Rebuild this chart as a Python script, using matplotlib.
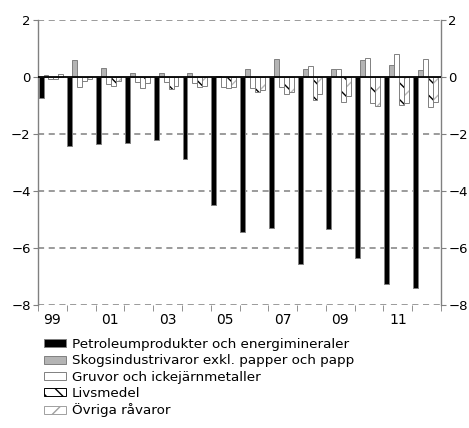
import numpy as np
import matplotlib
matplotlib.use("Agg")
from matplotlib import pyplot as plt
from matplotlib.patches import Patch

years = ["99", "00", "01", "02", "03", "04", "05", "06", "07", "08", "09", "10", "11", "12"]
petroleum = [-0.72, -2.43, -2.35, -2.30, -2.20, -2.88, -4.50, -5.45, -5.30, -6.56, -5.33, -6.36, -7.26, -7.40]
skog = [0.06, 0.61, 0.33, 0.13, 0.13, 0.14, 0.02, 0.27, 0.62, 0.28, 0.28, 0.59, 0.43, 0.26]
gruvor = [-0.08, -0.36, -0.25, -0.17, -0.17, -0.22, -0.36, -0.40, -0.34, 0.40, 0.28, 0.67, 0.81, 0.63]
livsmedel = [-0.08, -0.13, -0.30, -0.40, -0.43, -0.34, -0.40, -0.52, -0.60, -0.80, -0.86, -0.92, -0.98, -1.04]
ovriga = [0.10, -0.08, -0.15, -0.20, -0.30, -0.32, -0.34, -0.45, -0.52, -0.60, -0.66, -1.00, -0.90, -0.86]

labels = ["Petroleumprodukter och energimineraler",
          "Skogsindustrivaror exkl. papper och papp",
          "Gruvor och ickejärnmetaller",
          "Livsmedel",
          "Övriga råvaror"]

plt.rcParams["font.family"] = "DejaVu Sans"
plt.rcParams["hatch.linewidth"] = 1.0

fig = plt.figure(figsize=(4.69, 4.28), dpi=100)
ax = fig.add_axes([38 / 469, 1 - 305 / 428, (441 - 38) / 469, (305 - 20) / 428])

x = np.arange(len(years))
w = 0.172
start = -0.5 + 0.02
edge = "#808080"

def pos(i):
    return x + start + i * w

# dashed grid first
for yv in [2, -2, -4, -6, -8]:
    ax.axhline(yv, color="#808080", lw=1.1, ls=(0, (4, 3)), zorder=0)

ax.bar(pos(0), petroleum, w, align="edge", color="black", edgecolor=edge, lw=0.7, zorder=2)
ax.bar(pos(1), skog, w, align="edge", color="#b4b4b4", edgecolor=edge, lw=0.7, zorder=2)
ax.bar(pos(2), gruvor, w, align="edge", color="white", edgecolor=edge, lw=0.7, zorder=2)
ax.bar(pos(3), livsmedel, w, align="edge", color="white", edgecolor="black", lw=0, hatch="\\\\", zorder=2)
ax.bar(pos(3), livsmedel, w, align="edge", fill=False, edgecolor=edge, lw=0.7, zorder=3)
ax.bar(pos(4), ovriga, w, align="edge", color="white", edgecolor="#b8b8b8", lw=0, hatch="//", zorder=2)
ax.bar(pos(4), ovriga, w, align="edge", fill=False, edgecolor=edge, lw=0.7, zorder=3)

ax.axhline(0, color="black", lw=1.3, zorder=4)

ax.set_xlim(-0.5, len(years) - 0.5)
ax.set_ylim(-8, 2)

ax.set_xticks(x[::2])
ax.set_xticklabels(years[::2], fontsize=10)
ax.set_xticks(np.arange(len(years) + 1) - 0.5, minor=True)
ax.tick_params(axis="x", which="major", length=0, pad=6)
ax.tick_params(axis="x", which="minor", length=4, color="#808080", direction="out")

ax.set_yticks([-8, -6, -4, -2, 0, 2])
ax.tick_params(axis="y", which="both", left=True, right=True, labelleft=True, labelright=True,
               length=3.8, color="#808080", labelsize=9.5, pad=1.5)

for s in ["top", "bottom"]:
    ax.spines[s].set_visible(False)
for s in ["left", "right"]:
    ax.spines[s].set_color("#808080")
    ax.spines[s].set_linewidth(1.0)

handles = [
    Patch(facecolor="black", edgecolor=edge, lw=0.7),
    Patch(facecolor="#b4b4b4", edgecolor=edge, lw=0.7),
    Patch(facecolor="white", edgecolor=edge, lw=0.7),
    Patch(facecolor="white", edgecolor="black", lw=0.7, hatch="\\\\"),
    Patch(facecolor="white", edgecolor="#a0a0a0", lw=0.7, hatch="//"),
]
fig.legend(handles, labels, loc="upper left", bbox_to_anchor=(44 / 469, 1 - 338 / 428),
           frameon=False, fontsize=9.7, labelspacing=0.25, handlelength=1.65,
           handleheight=0.55, handletextpad=0.4, borderpad=0, borderaxespad=0)

fig.savefig("out.png", dpi=100)
